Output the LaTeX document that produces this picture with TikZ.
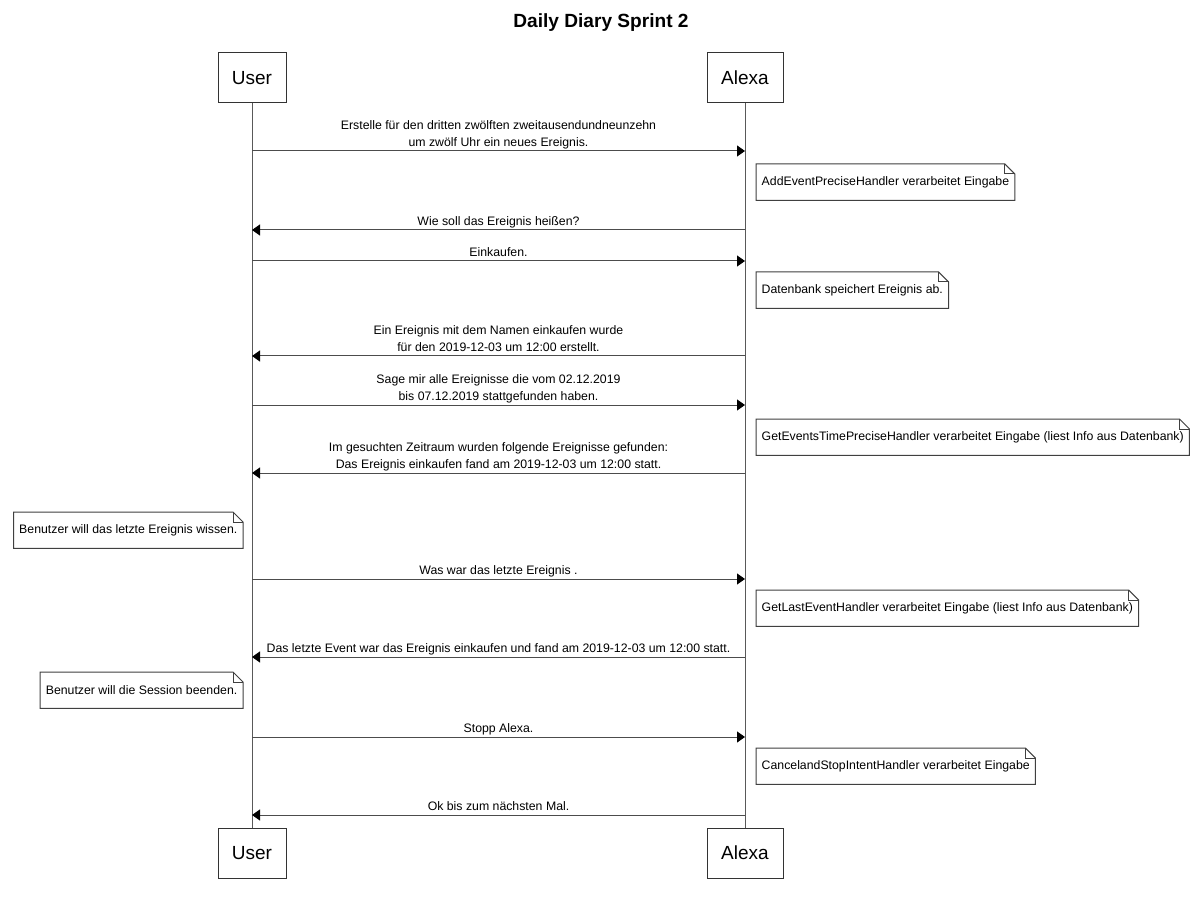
\documentclass[tikz,border=0pt]{standalone}
\usepackage{fontspec}
\setmainfont{Liberation Sans}
\usetikzlibrary{arrows.meta}
\tikzset{
  actor/.style={draw=black!80, line width=1pt, fill=white, minimum height=50pt, inner sep=0pt, font=\fontsize{19}{22}\selectfont},
  life/.style={draw=black!65, line width=1pt},
  msg/.style={draw=black!70, line width=1pt, -{Triangle[length=8pt,width=11pt,color=black]}},
  lbl/.style={anchor=south, inner sep=0pt, text depth=0pt, align=center, font=\fontsize{12.3}{17}\selectfont},
  notebox/.style={anchor=north west, minimum height=36pt, inner ysep=0pt, inner xsep=5.5pt, font=\fontsize{12.3}{14}\selectfont},
  noteline/.style={draw=black!75, line width=1pt}
}
\newcommand{\notepath}[1]{%
  \draw[noteline] (#1.north west) -- ([xshift=-10pt]#1.north east) -- ([yshift=-10pt]#1.north east) -- (#1.south east) -- (#1.south west) -- cycle;
  \draw[noteline] ([xshift=-10pt]#1.north east) -- ([xshift=-10pt,yshift=-10pt]#1.north east) -- ([yshift=-10pt]#1.north east);
}
\begin{document}
\begin{tikzpicture}[x=1pt,y=-1pt]
\useasboundingbox (0,0) rectangle (1200,901);
\fill[white] (0,0) rectangle (1200,901);

\node[anchor=base, font=\fontsize{19.1}{22}\selectfont\bfseries] (title) at (601,28) {Daily Diary Sprint 2};

\node[actor, minimum width=68pt] (ut) at (252,78) {User};
\node[actor, minimum width=76pt] (at) at (745,78) {Alexa};
\node[actor, minimum width=68pt] (ub) at (252,853) {User};
\node[actor, minimum width=76pt] (ab) at (745,853) {Alexa};
\draw[life] (ut.south) -- (ub.north);
\draw[life] (at.south) -- (ab.north);

% message anchor points
\foreach \n/\y in {1/151,2/230,3/261,4/356,5/405,6/473,7/579,8/657,9/737,10/815}{
  \coordinate (u\n) at (252,\y);
  \coordinate (a\n) at (745,\y);
}

\draw[msg] (u1) -- (a1) node[lbl, pos=0.5, yshift=4pt] {Erstelle für den dritten zwölften zweitausendundneunzehn\\um zwölf Uhr ein neues Ereignis.};
\draw[msg] (a2) -- (u2) node[lbl, pos=0.5, yshift=4pt] {Wie soll das Ereignis heißen?};
\draw[msg] (u3) -- (a3) node[lbl, pos=0.5, yshift=4pt] {Einkaufen.};
\draw[msg] (a4) -- (u4) node[lbl, pos=0.5, yshift=4pt] {Ein Ereignis mit dem Namen einkaufen wurde\\für den 2019-12-03 um 12:00 erstellt.};
\draw[msg] (u5) -- (a5) node[lbl, pos=0.5, yshift=4pt] {Sage mir alle Ereignisse die vom 02.12.2019\\bis 07.12.2019 stattgefunden haben.};
\draw[msg] (a6) -- (u6) node[lbl, pos=0.5, yshift=4pt] {Im gesuchten Zeitraum wurden folgende Ereignisse gefunden:\\Das Ereignis einkaufen fand am 2019-12-03 um 12:00 statt.};
\draw[msg] (u7) -- (a7) node[lbl, pos=0.5, yshift=4pt] {Was war das letzte Ereignis .};
\draw[msg] (a8) -- (u8) node[lbl, pos=0.5, yshift=4pt] {Das letzte Event war das Ereignis einkaufen und fand am 2019-12-03 um 12:00 statt.};
\draw[msg] (u9) -- (a9) node[lbl, pos=0.5, yshift=4pt] {Stopp Alexa.};
\draw[msg] (a10) -- (u10) node[lbl, pos=0.5, yshift=4pt] {Ok bis zum nächsten Mal.};

% notes
\node[notebox] (n1) at (756,164) {AddEventPreciseHandler verarbeitet Eingabe};
\notepath{n1}
\node[notebox] (n2) at (756,272) {Datenbank speichert Ereignis ab.};
\notepath{n2}
\node[notebox] (n3) at (756,419) {GetEventsTimePreciseHandler verarbeitet Eingabe (liest Info aus Datenbank)};
\notepath{n3}
\node[notebox, anchor=north east] (n4) at (243,512) {Benutzer will das letzte Ereignis wissen.};
\notepath{n4}
\node[notebox] (n5) at (756,590) {GetLastEventHandler verarbeitet Eingabe (liest Info aus Datenbank)};
\notepath{n5}
\node[notebox, anchor=north east] (n6) at (243,672) {Benutzer will die Session beenden.};
\notepath{n6}
\node[notebox] (n7) at (756,748) {CancelandStopIntentHandler verarbeitet Eingabe};
\notepath{n7}
\end{tikzpicture}
\end{document}
